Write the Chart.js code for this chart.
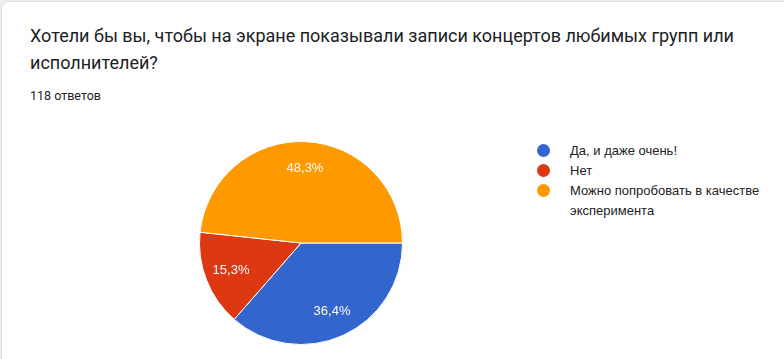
<!DOCTYPE html>
<html>
<head>
<meta charset="utf-8">
<script src="https://cdn.jsdelivr.net/npm/chart.js@4/dist/chart.umd.min.js"></script>
<style>
  html, body { margin: 0; padding: 0; width: 784px; height: 359px; overflow: hidden; background: #eceef2; }
  #card { position: absolute; left: 1px; top: 1px; width: 820px; height: 420px; background: #fff;
          border: 1px solid #dadce0; border-radius: 8px; box-sizing: border-box; }
  #title { position: absolute; left: 30px; top: 22px; width: 750px; font-family: Roboto, sans-serif;
           font-size: 18px; line-height: 27px; color: #202124; }
  #count { position: absolute; left: 30px; top: 88px; font-family: Roboto, sans-serif; font-size: 12.5px;
           color: #202124; }
  #wrap { position: absolute; left: 199px; top: 141px; width: 204px; height: 204px; }
  #legend { position: absolute; left: 537px; top: 141px; width: 240px; font-family: Arial, "Liberation Sans", sans-serif;
            font-size: 13px; color: #222; }
  .item { position: relative; padding-left: 33px; line-height: 20px; }
  .dot { position: absolute; left: 0px; top: 3px; width: 13px; height: 13px; border-radius: 50%; }
</style>
</head>
<body>
<div id="card"></div>
<div id="title">Хотели бы вы, чтобы на экране показывали записи концертов любимых групп или исполнителей?</div>
<div id="count">118 ответов</div>
<div id="wrap"><canvas id="c" width="204" height="204"></canvas></div>
<div id="legend"></div>
<script>
const categories = ["Да, и даже очень!", "Нет", "Можно попробовать в качестве эксперимента"];
const values = [43, 18, 57];
const percentLabels = ["36,4%", "15,3%", "48,3%"];
const colors = ["#3366cc", "#dc3912", "#ff9900"];

const legendEl = document.getElementById('legend');
categories.forEach((c, i) => {
  const d = document.createElement('div');
  d.className = 'item';
  d.innerHTML = '<span class="dot" style="background:' + colors[i] + '"></span>' + c;
  legendEl.appendChild(d);
});

const labelPlugin = {
  id: 'sliceLabels',
  afterDatasetsDraw(chart) {
    const ctx = chart.ctx;
    const meta = chart.getDatasetMeta(0);
    ctx.save();
    ctx.fillStyle = '#ffffff';
    ctx.font = '13px Arial, "Liberation Sans", sans-serif';
    ctx.textAlign = 'center';
    ctx.textBaseline = 'middle';
    meta.data.forEach((arc, i) => {
      const mid = (arc.startAngle + arc.endAngle) / 2;
      const r = arc.outerRadius * 0.74;
      ctx.fillText(percentLabels[i], arc.x + Math.cos(mid) * r, arc.y + Math.sin(mid) * r);
    });
    ctx.restore();
  }
};

new Chart(document.getElementById('c'), {
  type: 'pie',
  data: {
    labels: categories,
    datasets: [{
      data: values,
      backgroundColor: colors,
      borderColor: '#ffffff',
      borderWidth: 1
    }]
  },
  options: {
    responsive: false,
    animation: false,
    rotation: 90,
    layout: { padding: 0 },
    plugins: { legend: { display: false }, tooltip: { enabled: false } }
  },
  plugins: [labelPlugin]
});
</script>
</body>
</html>
